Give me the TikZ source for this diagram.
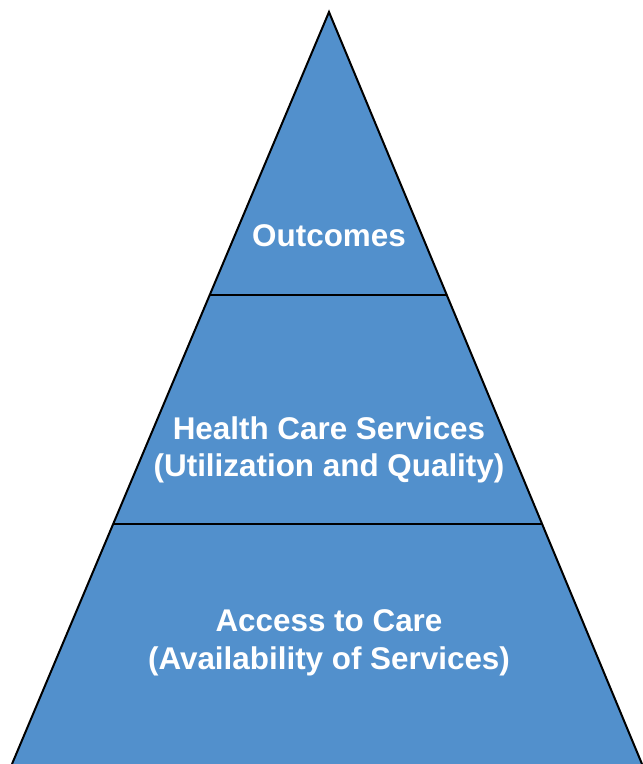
\documentclass[tikz,border=0pt]{standalone}
\usepackage{fontspec}
\setsansfont{Liberation Sans}
\usetikzlibrary{calc}
\definecolor{pyrblue}{RGB}{82,144,204}

\begin{document}
\begin{tikzpicture}[
	x=1pt, y=-1pt,
	every node/.style={align=center, text=white, font=\sffamily\bfseries\fontsize{31.4}{37.5}\selectfont},
	edge/.style={draw=black, line width=2pt, line join=miter},
	tier/.style={draw=black, line width=2pt}
	]
	\useasboundingbox (0,0) rectangle (643,764);
	
	% Corners
	\coordinate (apex) at (329,12);
	\coordinate (bl) at (12,764);
	\coordinate (br) at (642,764);
	\coordinate (l1) at ($(apex)!{283/752}!(bl)$);
	\coordinate (r1) at ($(apex)!{283/752}!(br)$);
	\coordinate (l2) at ($(apex)!{512/752}!(bl)$);
	\coordinate (r2) at ($(apex)!{512/752}!(br)$);
	
	% Pyramid
	\fill[pyrblue] (apex) -- (bl) -- (br) -- cycle;
	\draw[edge] (bl) -- (apex) -- (br);
	\draw[tier] (l1) -- (r1);
	\draw[tier] (l2) -- (r2);
	
	% Labels
	\node (outcomes) at (329,236) {Outcomes};
	\node (services) at (329,450) {Health Care Services\\(Utilization and Quality)};
	\node (access) at (329,643) {Access to Care\\(Availability of Services)};
	
\end{tikzpicture}
\end{document}
